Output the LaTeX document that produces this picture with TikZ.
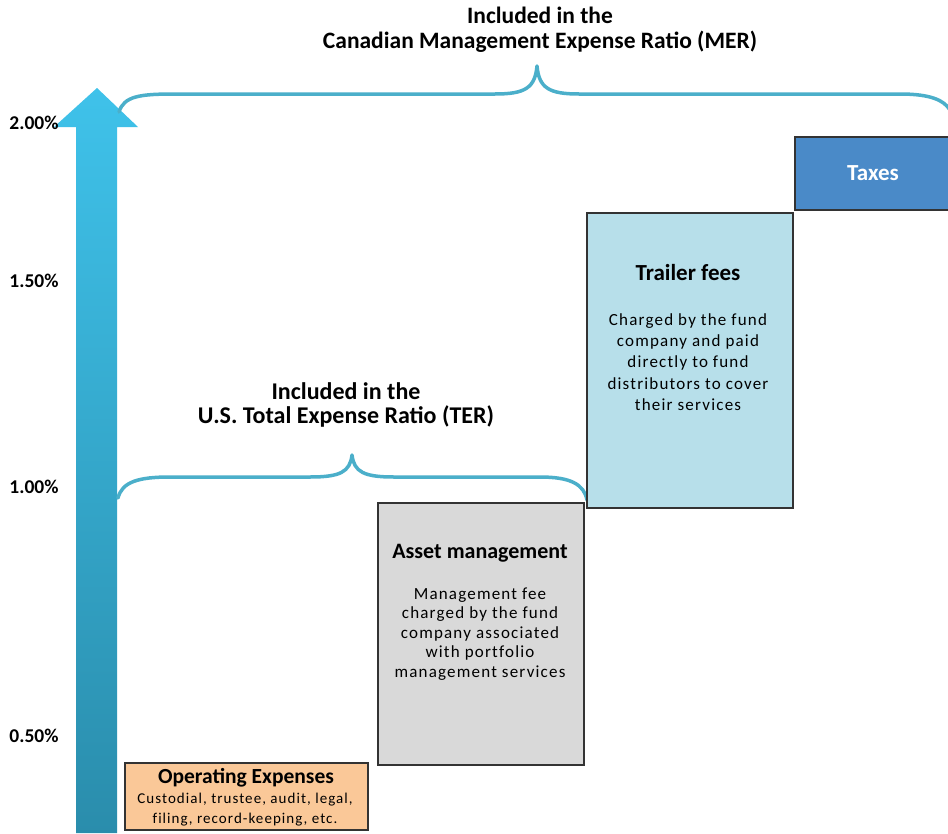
\documentclass[tikz,border=0pt]{standalone}
\usepackage{fontspec}
\setmainfont{Carlito}
\newfontfamily\bodyfont[LetterSpace=7,Ligatures=NoCommon]{Carlito}
\begin{document}
\begin{tikzpicture}[x=1pt,y=-1pt,
  brace/.style={draw=braceblue,line width=3.5pt,line cap=round,line join=round},
  box/.style={draw=black!80,line width=1.2pt,inner sep=0pt},
  axislbl/.style={font=\fontsize{19.5}{22}\selectfont\bfseries,anchor=center},
  toptitle/.style={font=\fontsize{23.5}{25}\selectfont\bfseries,align=center},
  boxtitle/.style={font=\fontsize{23}{26}\selectfont\bfseries},
  boxbody/.style={align=center}]
\definecolor{braceblue}{HTML}{4BAFCA}
\definecolor{arrowtop}{HTML}{3FC2EA}
\definecolor{arrowbot}{HTML}{2A8DAC}
\definecolor{peach}{HTML}{FAC898}
\definecolor{greybox}{HTML}{D9D9D9}
\definecolor{lightblue}{HTML}{B7DFEA}
\definecolor{taxblue}{HTML}{4A8AC8}
\useasboundingbox (0,0) rectangle (948,833);
\fill[white] (0,0) rectangle (948,833);
% arrow
\shade[top color=arrowtop,bottom color=arrowbot]
  (76,833) -- (76,127) -- (54,127) -- (97,88) -- (138,127) -- (117,127) -- (117,833) -- cycle;
\coordinate (atop) at (97,88);
% big brace
\draw[brace] (119,112) .. controls (124,96) and (140,94) .. (175,94)
  -- (495,94) .. controls (525,94) and (535,88) .. (537,66)
  .. controls (539,88) and (549,94) .. (579,94)
  -- (900,94) .. controls (930,94) and (944,100) .. (950,110);
% small brace
\draw[brace] (118,498) .. controls (122,482) and (138,477) .. (170,477)
  -- (310,477) .. controls (340,477) and (350,472) .. (352,455)
  .. controls (354,472) and (364,477) .. (394,477)
  -- (540,477) .. controls (570,477) and (584,484) .. (587,500);
% titles
\node[toptitle] (mer) at (540,30) {Included in the\\Canadian Management Expense Ratio (MER)};
\node[toptitle,font=\fontsize{24}{24}\selectfont\bfseries] (ter) at (346,405) {Included in the\\U.S. Total Expense Ratio (TER)};
% axis labels
\node[axislbl] (l200) at (34,123) {2.00\%};
\node[axislbl] (l150) at (34,281) {1.50\%};
\node[axislbl] (l100) at (34,487) {1.00\%};
\node[axislbl] (l050) at (34,736) {0.50\%};
% boxes
\draw[box,fill=peach] (125,763) rectangle (368,830);
\node[font=\fontsize{21.5}{24}\selectfont\bfseries] (opt) at (246,778) {Operating Expenses};
\node[boxbody,font=\fontsize{15}{20}\selectfont\bodyfont] (opb) at (245,810) {Custodial, trustee, audit, legal,\\filing, record-keeping, etc.};
\draw[box,fill=greybox] (378,503) rectangle (584,765);
\node[boxtitle,font=\fontsize{22}{26}\selectfont\bfseries] (amt) at (480,553) {Asset management};
\node[boxbody,font=\fontsize{17}{19.5}\selectfont\bodyfont] (amb) at (480,634) {Management fee\\charged by the fund\\company associated\\with portfolio\\management services};
\draw[box,fill=lightblue] (587,213) rectangle (793,508);
\node[boxtitle] (trt) at (688,273) {Trailer fees};
\node[boxbody,font=\fontsize{17}{21.3}\selectfont\bodyfont] (trb) at (688,362) {Charged by the fund\\company and paid\\directly to fund\\distributors to cover\\their services};
\draw[box,fill=taxblue] (795,137) rectangle (952,210);
\node[boxtitle,text=white] (tax) at (873,173) {Taxes};
\end{tikzpicture}
\end{document}
